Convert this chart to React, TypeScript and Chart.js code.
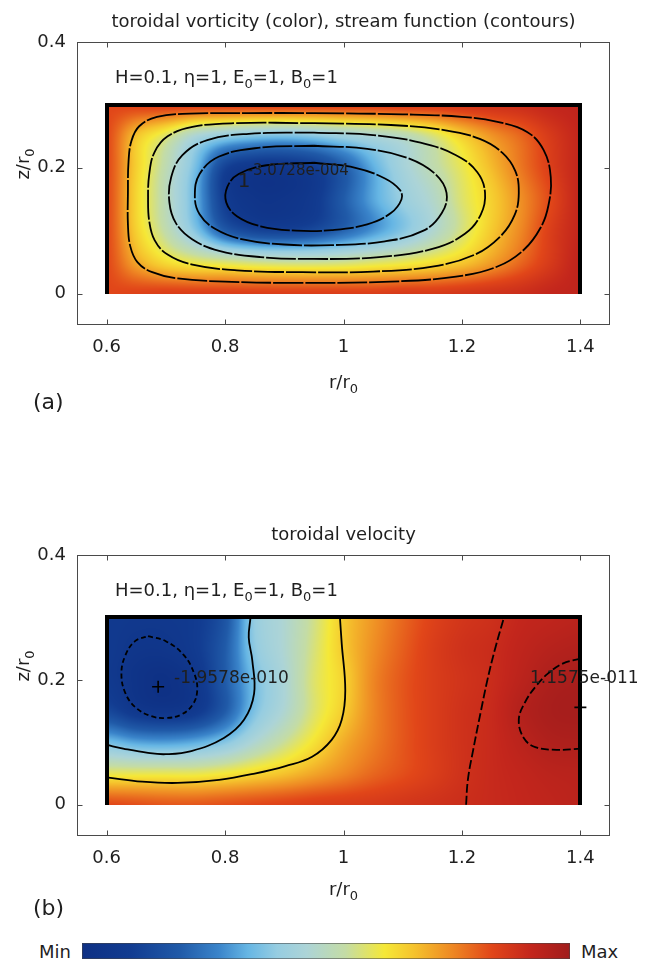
import React, { useEffect, useRef } from "react";
import { Chart, registerables } from "chart.js";

Chart.register(...registerables);

const FONT = "'DejaVu Sans', sans-serif";
const INK = "#1f1f1f";

// ---------- grid of the colour fields (normalised: 0 = Min, 1 = Max) ----------
const R_GRID = [0.6, 0.65, 0.7, 0.75, 0.8, 0.85, 0.9, 0.95, 1.0, 1.05, 1.1, 1.15, 1.2, 1.25, 1.3, 1.35, 1.4];
const Z_GRID = [0, 0.05, 0.1, 0.15, 0.2, 0.25, 0.3];

// rows: z = 0, 0.05, ... 0.3
const VORTICITY = [
  [0.84, 0.85, 0.86, 0.86, 0.86, 0.86, 0.86, 0.86, 0.86, 0.86, 0.87, 0.87, 0.88, 0.89, 0.9, 0.92, 0.93],
  [0.84, 0.72, 0.64, 0.6, 0.58, 0.56, 0.55, 0.55, 0.56, 0.58, 0.6, 0.63, 0.67, 0.73, 0.8, 0.87, 0.93],
  [0.84, 0.66, 0.53, 0.38, 0.2, 0.13, 0.12, 0.15, 0.22, 0.3, 0.38, 0.47, 0.57, 0.67, 0.76, 0.86, 0.92],
  [0.84, 0.65, 0.51, 0.34, 0.1, 0.04, 0.04, 0.08, 0.2, 0.32, 0.41, 0.48, 0.58, 0.66, 0.75, 0.84, 0.92],
  [0.84, 0.66, 0.52, 0.36, 0.12, 0.06, 0.06, 0.1, 0.2, 0.33, 0.44, 0.52, 0.6, 0.69, 0.78, 0.86, 0.92],
  [0.84, 0.68, 0.58, 0.46, 0.4, 0.37, 0.36, 0.38, 0.42, 0.46, 0.5, 0.57, 0.66, 0.74, 0.8, 0.87, 0.92],
  [0.84, 0.85, 0.86, 0.86, 0.86, 0.86, 0.86, 0.86, 0.86, 0.86, 0.87, 0.87, 0.88, 0.89, 0.9, 0.92, 0.93],
];

const VELOCITY = [
  [0.84, 0.83, 0.82, 0.82, 0.83, 0.84, 0.85, 0.86, 0.865, 0.87, 0.88, 0.89, 0.9, 0.91, 0.92, 0.93, 0.94],
  [0.6, 0.6, 0.6, 0.6, 0.62, 0.65, 0.68, 0.72, 0.76, 0.8, 0.83, 0.86, 0.89, 0.91, 0.925, 0.94, 0.945],
  [0.36, 0.32, 0.31, 0.33, 0.38, 0.47, 0.55, 0.63, 0.71, 0.77, 0.82, 0.86, 0.89, 0.91, 0.94, 0.965, 0.97],
  [0.14, 0.07, 0.05, 0.08, 0.2, 0.37, 0.47, 0.58, 0.665, 0.76, 0.82, 0.86, 0.89, 0.91, 0.955, 0.98, 0.985],
  [0.08, 0.03, 0.01, 0.06, 0.2, 0.36, 0.46, 0.58, 0.655, 0.76, 0.82, 0.86, 0.885, 0.905, 0.94, 0.97, 0.98],
  [0.08, 0.05, 0.05, 0.09, 0.2, 0.39, 0.47, 0.57, 0.67, 0.75, 0.81, 0.86, 0.89, 0.905, 0.93, 0.95, 0.96],
  [0.08, 0.07, 0.07, 0.09, 0.18, 0.4, 0.47, 0.56, 0.67, 0.74, 0.8, 0.85, 0.88, 0.895, 0.92, 0.93, 0.94],
];

// ---------- colour map ----------
const CMAP_POS = [0, 0.1, 0.2, 0.28, 0.34, 0.4, 0.46, 0.54, 0.62, 0.68, 0.76, 0.84, 0.92, 1];
const CMAP_RGB = [
  [14, 48, 132],
  [18, 60, 145],
  [32, 90, 168],
  [58, 132, 202],
  [102, 182, 228],
  [150, 205, 225],
  [172, 212, 215],
  [196, 220, 165],
  [245, 232, 55],
  [245, 195, 45],
  [238, 135, 35],
  [225, 70, 25],
  [195, 38, 28],
  [160, 28, 28],
];

// ---------- axes ----------
const X_RANGE = [0.55, 1.45];
const Y_RANGE = [-0.05, 0.4];
const X_TICKS = [0.6, 0.8, 1, 1.2, 1.4];
const X_TICK_LABELS = ["0.6", "0.8", "1", "1.2", "1.4"];
const Y_TICKS = [0, 0.2, 0.4];
const Y_TICK_LABELS = ["0", "0.2", "0.4"];

// ---------- stream-function contours (panel a) ----------
const PSI_1 = [[0.95, 0.208], [1.02, 0.2], [1.07, 0.183], [1.095, 0.165], [1.098, 0.15], [1.08, 0.128], [1.04, 0.11], [0.98, 0.101], [0.92, 0.1], [0.86, 0.107], [0.82, 0.123], [0.802, 0.145], [0.804, 0.17], [0.823, 0.19], [0.87, 0.204], [0.95, 0.208]];
const PSI_2 = [[0.95, 0.235], [1.04, 0.23], [1.11, 0.215], [1.155, 0.19], [1.174, 0.16], [1.166, 0.128], [1.135, 0.1], [1.07, 0.083], [0.98, 0.077], [0.9, 0.078], [0.83, 0.086], [0.783, 0.103], [0.757, 0.126], [0.749, 0.155], [0.757, 0.19], [0.79, 0.218], [0.86, 0.232], [0.95, 0.235]];
const PSI_3 = [[0.95, 0.256], [1.05, 0.252], [1.13, 0.24], [1.19, 0.22], [1.226, 0.193], [1.239, 0.16], [1.232, 0.126], [1.205, 0.095], [1.15, 0.071], [1.06, 0.058], [0.95, 0.055], [0.86, 0.058], [0.79, 0.068], [0.745, 0.086], [0.717, 0.112], [0.706, 0.145], [0.709, 0.185], [0.728, 0.22], [0.77, 0.244], [0.84, 0.254], [0.95, 0.256]];
const PSI_4 = [[0.95, 0.271], [1.08, 0.268], [1.17, 0.26], [1.23, 0.246], [1.268, 0.224], [1.29, 0.195], [1.296, 0.16], [1.289, 0.125], [1.266, 0.092], [1.222, 0.062], [1.15, 0.043], [1.05, 0.035], [0.93, 0.034], [0.82, 0.037], [0.745, 0.046], [0.703, 0.062], [0.681, 0.085], [0.672, 0.115], [0.67, 0.15], [0.672, 0.19], [0.681, 0.225], [0.703, 0.25], [0.745, 0.265], [0.82, 0.271], [0.95, 0.271]];
const PSI_5 = [[0.95, 0.287], [1.1, 0.285], [1.2, 0.281], [1.26, 0.273], [1.31, 0.257], [1.338, 0.228], [1.35, 0.185], [1.346, 0.14], [1.333, 0.105], [1.305, 0.07], [1.26, 0.043], [1.19, 0.027], [1.08, 0.019], [0.92, 0.017], [0.8, 0.019], [0.72, 0.024], [0.677, 0.034], [0.652, 0.05], [0.64, 0.075], [0.636, 0.11], [0.636, 0.16], [0.637, 0.21], [0.642, 0.243], [0.655, 0.266], [0.685, 0.281], [0.74, 0.286], [0.84, 0.287], [0.95, 0.287]];

// ---------- velocity contours (panel b) ----------
const VEL_1 = [[0.67, 0.27], [0.7, 0.262], [0.73, 0.24], [0.748, 0.21], [0.753, 0.183], [0.745, 0.16], [0.725, 0.144], [0.7, 0.139], [0.675, 0.142], [0.65, 0.155], [0.632, 0.178], [0.625, 0.21], [0.632, 0.24], [0.648, 0.262], [0.67, 0.27]];
const VEL_2 = [[0.843, 0.3], [0.84, 0.268], [0.846, 0.231], [0.849, 0.178], [0.832, 0.136], [0.798, 0.107], [0.743, 0.086], [0.7, 0.081], [0.67, 0.083], [0.628, 0.09], [0.6, 0.096]];
const VEL_3 = [[0.994, 0.3], [0.997, 0.258], [1.003, 0.183], [0.997, 0.136], [0.98, 0.104], [0.947, 0.077], [0.902, 0.062], [0.85, 0.05], [0.79, 0.04], [0.72, 0.035], [0.66, 0.037], [0.6, 0.044]];
const VEL_4 = [[1.207, 0], [1.21, 0.04], [1.219, 0.088], [1.232, 0.15], [1.243, 0.2], [1.256, 0.25], [1.271, 0.3]];
const VEL_5 = [[1.4, 0.234], [1.37, 0.226], [1.345, 0.21], [1.325, 0.19], [1.307, 0.165], [1.296, 0.136], [1.305, 0.106], [1.325, 0.092], [1.36, 0.088], [1.4, 0.09]];
const VEL_EXTREMA = [[0.687, 0.189], [1.4, 0.156]];

// ---------- texts ----------
const TITLE_A = "toroidal vorticity (color), stream function (contours)";
const TITLE_B = "toroidal velocity";
const PARAMS = [
  { t: "H=0.1, \u03b7=1, E" }, { t: "0", sub: true }, { t: "=1, B" }, { t: "0", sub: true }, { t: "=1" },
];
const X_LABEL = [{ t: "r/r" }, { t: "0", sub: true }];
const Y_LABEL = [{ t: "z/r" }, { t: "0", sub: true }];

type Part = { t: string; sub?: boolean };
type Note = { text: string; r: number; z: number; size: number };
type Line = { pts: number[][]; dash: number[] };
type PanelCfg = {
  top: number; height: number; bottom: number;
  field: number[][]; lines: Line[]; markers: number[][];
  title: string; letter: string; notes: Note[];
  xLabelBase: number; letterBase: number; yLabelMid: number;
};

const PANEL_A: PanelCfg = {
  top: 0, height: 470, bottom: 325,
  field: VORTICITY,
  lines: [PSI_5, PSI_4, PSI_3, PSI_2, PSI_1].map((pts) => ({ pts, dash: [30, 2] })),
  markers: [],
  title: TITLE_A, letter: "(a)",
  notes: [
    { text: "1", r: 0.8215, z: 0.169, size: 20 },
    { text: "-3.0728e-004", r: 0.838, z: 0.1885, size: 15 },
  ],
  xLabelBase: 388, letterBase: 409, yLabelMid: 164,
};

const PANEL_B: PanelCfg = {
  top: 513, height: 420, bottom: 323,
  field: VELOCITY,
  lines: [
    { pts: VEL_1, dash: [5, 3] },
    { pts: VEL_2, dash: [] },
    { pts: VEL_3, dash: [] },
    { pts: VEL_4, dash: [9, 3] },
    { pts: VEL_5, dash: [8, 3] },
  ],
  markers: VEL_EXTREMA,
  title: TITLE_B, letter: "(b)",
  notes: [
    { text: "-1.9578e-010", r: 0.714, z: 0.1946, size: 17 },
    { text: "1.1575e-011", r: 1.315, z: 0.1946, size: 17 },
  ],
  xLabelBase: 382, letterBase: 402, yLabelMid: 153,
};

// ---------- helpers ----------
function cr(p0: number, p1: number, p2: number, p3: number, t: number) {
  return p1 + 0.5 * t * (p2 - p0 + t * (2 * p0 - 5 * p1 + 4 * p2 - p3 + t * (3 * (p1 - p2) + p3 - p0)));
}
function sample(field: number[][], r: number, z: number) {
  const nx = R_GRID.length, ny = Z_GRID.length;
  const fx = (r - R_GRID[0]) / (R_GRID[1] - R_GRID[0]);
  const fy = (z - Z_GRID[0]) / (Z_GRID[1] - Z_GRID[0]);
  const i = Math.max(0, Math.min(nx - 2, Math.floor(fx)));
  const j = Math.max(0, Math.min(ny - 2, Math.floor(fy)));
  const tx = Math.max(0, Math.min(1, fx - i));
  const ty = Math.max(0, Math.min(1, fy - j));
  const cx = (a: number) => Math.max(0, Math.min(nx - 1, a));
  const cy = (a: number) => Math.max(0, Math.min(ny - 1, a));
  const v: number[] = [];
  for (let m = -1; m <= 2; m++) {
    const row = field[cy(j + m)];
    v.push(cr(row[cx(i - 1)], row[i], row[i + 1], row[cx(i + 2)], tx));
  }
  return Math.max(0, Math.min(1, cr(v[0], v[1], v[2], v[3], ty)));
}
function colorAt(v: number) {
  for (let k = 0; k < CMAP_POS.length - 1; k++) {
    if (v <= CMAP_POS[k + 1]) {
      const t = (v - CMAP_POS[k]) / (CMAP_POS[k + 1] - CMAP_POS[k]);
      const a = CMAP_RGB[k], b = CMAP_RGB[k + 1];
      return [a[0] + (b[0] - a[0]) * t, a[1] + (b[1] - a[1]) * t, a[2] + (b[2] - a[2]) * t];
    }
  }
  return CMAP_RGB[CMAP_RGB.length - 1];
}
function drawParts(ctx: CanvasRenderingContext2D, parts: Part[], x: number, y: number, size: number, subSize: number, align: "left" | "center") {
  ctx.textAlign = "left";
  ctx.textBaseline = "alphabetic";
  const widths = parts.map((p) => {
    ctx.font = `${p.sub ? subSize : size}px ${FONT}`;
    return ctx.measureText(p.t).width;
  });
  const total = widths.reduce((a, b) => a + b, 0);
  let cx = align === "center" ? x - total / 2 : x;
  parts.forEach((p, k) => {
    ctx.font = `${p.sub ? subSize : size}px ${FONT}`;
    ctx.fillText(p.t, cx, p.sub ? y + 5 : y);
    cx += widths[k];
  });
}

function makePlugin(cfg: PanelCfg) {
  return {
    id: "panelDecor",
    beforeDatasetsDraw(chart: any) {
      const { ctx } = chart;
      const xs = chart.scales.x, ys = chart.scales.y;
      const x0 = Math.round(xs.getPixelForValue(R_GRID[0]));
      const x1 = Math.round(xs.getPixelForValue(R_GRID[R_GRID.length - 1]));
      const y0 = Math.round(ys.getPixelForValue(Z_GRID[Z_GRID.length - 1]));
      const y1 = Math.round(ys.getPixelForValue(Z_GRID[0]));
      const w = x1 - x0, h = y1 - y0;
      const off = document.createElement("canvas");
      off.width = w; off.height = h;
      const octx = off.getContext("2d")!;
      const img = octx.createImageData(w, h);
      for (let jj = 0; jj < h; jj++) {
        const z = ys.getValueForPixel(y0 + jj + 0.5);
        for (let ii = 0; ii < w; ii++) {
          const r = xs.getValueForPixel(x0 + ii + 0.5);
          const c = colorAt(sample(cfg.field, r, z));
          const k = (jj * w + ii) * 4;
          img.data[k] = c[0]; img.data[k + 1] = c[1]; img.data[k + 2] = c[2]; img.data[k + 3] = 255;
        }
      }
      octx.putImageData(img, 0, 0);
      ctx.drawImage(off, x0, y0);
      ctx.save();
      ctx.strokeStyle = "#000";
      ctx.lineWidth = 4;
      ctx.lineJoin = "miter";
      ctx.beginPath();
      ctx.moveTo(x0, y1);
      ctx.lineTo(x0, y0);
      ctx.lineTo(x1, y0);
      ctx.lineTo(x1, y1);
      ctx.stroke();
      ctx.restore();
    },
    afterDraw(chart: any) {
      const { ctx, chartArea } = chart;
      const xs = chart.scales.x, ys = chart.scales.y;
      const L = Math.round(chartArea.left) + 0.5, R = Math.round(chartArea.right) - 0.5;
      const T = Math.round(chartArea.top) + 0.5, B = Math.round(chartArea.bottom) - 0.5;
      ctx.save();
      ctx.strokeStyle = "#4a4a4a";
      ctx.lineWidth = 1;
      ctx.strokeRect(L, T, R - L, B - T);
      ctx.beginPath();
      X_TICKS.forEach((v) => {
        const px = Math.round(xs.getPixelForValue(v)) + 0.5;
        ctx.moveTo(px, B); ctx.lineTo(px, B - 5);
        ctx.moveTo(px, T); ctx.lineTo(px, T + 5);
      });
      Y_TICKS.forEach((v) => {
        const py = Math.round(ys.getPixelForValue(v)) + 0.5;
        ctx.moveTo(L, py); ctx.lineTo(L + 5, py);
        ctx.moveTo(R, py); ctx.lineTo(R - 5, py);
      });
      ctx.stroke();

      ctx.fillStyle = INK;
      const midX = (chartArea.left + chartArea.right) / 2;
      // title
      drawParts(ctx, [{ t: cfg.title }], midX, chartArea.top - 15, 18, 13, "center");
      // parameters
      drawParts(ctx, PARAMS, 115, chartArea.top + 41, 18, 13, "left");
      // axis labels
      drawParts(ctx, X_LABEL, midX, cfg.xLabelBase, 18, 13, "center");
      ctx.save();
      ctx.translate(29, cfg.yLabelMid);
      ctx.rotate(-Math.PI / 2);
      drawParts(ctx, Y_LABEL, 0, 0, 18, 13, "center");
      ctx.restore();
      // panel letter
      drawParts(ctx, [{ t: cfg.letter }], 33, cfg.letterBase, 22, 16, "left");
      // contour labels
      cfg.notes.forEach((n) => {
        drawParts(ctx, [{ t: n.text }], xs.getPixelForValue(n.r), ys.getPixelForValue(n.z), n.size, 12, "left");
      });
      ctx.restore();
    },
  };
}

function Panel({ cfg }: { cfg: PanelCfg }) {
  const ref = useRef<HTMLCanvasElement | null>(null);
  useEffect(() => {
    if (!ref.current) return;
    const lineSets = cfg.lines.map((ln) => ({
      type: "scatter" as const,
      data: ln.pts.map(([x, y]) => ({ x, y })),
      showLine: true,
      borderColor: "#000",
      borderWidth: 1.8,
      borderDash: ln.dash,
      pointRadius: 0,
      tension: 0.4,
      fill: false,
    }));
    const markerSet = {
      type: "scatter" as const,
      data: cfg.markers.map(([x, y]) => ({ x, y })),
      showLine: false,
      pointStyle: "cross" as const,
      pointRadius: 6,
      borderColor: "#000",
      borderWidth: 1.6,
    };
    const tickFont = { family: FONT, size: 18 };
    const chart = new Chart(ref.current, {
      type: "scatter",
      data: { datasets: [...lineSets, markerSet] as any },
      plugins: [makePlugin(cfg)],
      options: {
        animation: false,
        responsive: false,
        maintainAspectRatio: false,
        devicePixelRatio: 1,
        events: [],
        layout: { padding: { left: 0, right: 36, top: 42, bottom: 0 } },
        plugins: { legend: { display: false }, tooltip: { enabled: false }, title: { display: false } },
        scales: {
          x: {
            type: "linear",
            min: X_RANGE[0],
            max: X_RANGE[1],
            afterBuildTicks: (s: any) => { s.ticks = X_TICKS.map((value) => ({ value })); },
            afterFit: (s: any) => {
              s.height = cfg.height - cfg.bottom;
              s.paddingLeft = 0; s.paddingRight = 0; s.paddingTop = 0; s.paddingBottom = 0;
            },
            grid: { display: false, drawTicks: false },
            border: { display: false },
            ticks: {
              font: tickFont, color: INK, padding: 12, maxRotation: 0, autoSkip: false,
              callback: (v: any) => {
                const k = X_TICKS.findIndex((t) => Math.abs(t - Number(v)) < 1e-9);
                return k >= 0 ? X_TICK_LABELS[k] : "";
              },
            },
          },
          y: {
            type: "linear",
            min: Y_RANGE[0],
            max: Y_RANGE[1],
            afterBuildTicks: (s: any) => { s.ticks = Y_TICKS.map((value) => ({ value })); },
            afterFit: (s: any) => {
              s.width = 77;
              s.paddingLeft = 0; s.paddingRight = 0; s.paddingTop = 0; s.paddingBottom = 0;
            },
            grid: { display: false, drawTicks: false },
            border: { display: false },
            ticks: {
              font: tickFont, color: INK, padding: 11, autoSkip: false,
              callback: (v: any) => {
                const k = Y_TICKS.findIndex((t) => Math.abs(t - Number(v)) < 1e-9);
                return k >= 0 ? Y_TICK_LABELS[k] : "";
              },
            },
          },
        },
      } as any,
    });
    return () => chart.destroy();
  }, [cfg]);
  return (
    <canvas
      ref={ref}
      width={646}
      height={cfg.height}
      style={{ position: "absolute", left: 0, top: cfg.top, width: 646, height: cfg.height }}
    />
  );
}

const gradient =
  "linear-gradient(to right, " +
  CMAP_POS.map((p, k) => `rgb(${CMAP_RGB[k].join(",")}) ${(p * 100).toFixed(1)}%`).join(", ") +
  ")";

export default function App() {
  const label: React.CSSProperties = {
    position: "absolute", top: 943, fontFamily: FONT, fontSize: 18, lineHeight: "18px", color: INK,
  };
  return (
    <div style={{ position: "absolute", left: 0, top: 0, width: 646, height: 965, background: "#fff", overflow: "hidden" }}>
      <Panel cfg={PANEL_A} />
      <Panel cfg={PANEL_B} />
      <span style={{ ...label, left: 39 }}>Min</span>
      <div
        style={{
          position: "absolute", left: 82, top: 943, width: 488, height: 16,
          background: gradient, boxShadow: "inset 0 0 0 1px rgba(70,70,70,0.55)",
        }}
      />
      <span style={{ ...label, left: 581 }}>Max</span>
    </div>
  );
}
